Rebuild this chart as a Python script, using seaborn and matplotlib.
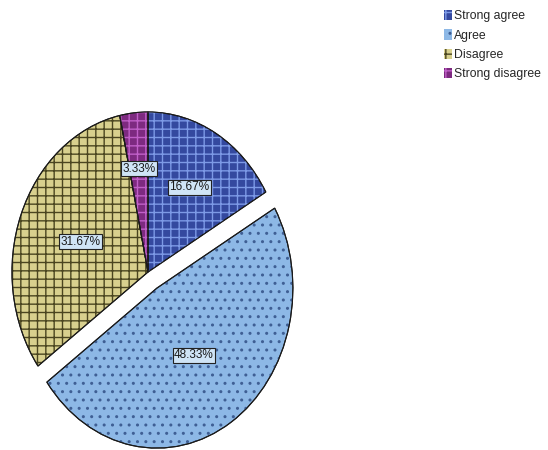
import numpy as np
import matplotlib
matplotlib.use("Agg")
import matplotlib.pyplot as plt
import seaborn as sns
from matplotlib.patches import Wedge, Patch

categories = ["Strong agree", "Agree", "Disagree", "Strong disagree"]
percent = [16.67, 48.33, 31.67, 3.33]
pct_labels = ["16.67%", "48.33%", "31.67%", "3.33%"]

sns.set_theme(style="white")
plt.rcParams['font.family'] = ['Liberation Sans', 'DejaVu Sans']
plt.rcParams['hatch.linewidth'] = 1.0

colors = ["#34499f", "#8db8e6", "#d8d08e", "#7d2a80"]
hatch_colors = ["#7d9ae6", "#3f5f94", "#4a4520", "#c060c8"]
hatches = ["++", "..", "++", "++"]
explode = [0, 0.12, 0, 0]
label_r = [0.61, 0.50, 0.53, 0.65]

fig = plt.figure(figsize=(5.48, 4.5), dpi=100)
ax = fig.add_axes([0, 0, 1, 1])

wedges, _ = ax.pie(percent, explode=explode, colors=colors, startangle=90,
                   counterclock=False,
                   wedgeprops=dict(edgecolor="#1a1a1a", linewidth=0.8))
ax.set_aspect('auto')
# centre at pixel (148, 272), radius 136 px horizontally, 160 px vertically
ax.set_xlim(-148 / 136, (548 - 148) / 136)
ax.set_ylim(-178 / 160, (450 - 178) / 160)
ax.axis('off')

for w, h, hc in zip(wedges, hatches, hatch_colors):
    ov = Wedge(w.center, w.r, w.theta1, w.theta2, fill=False, hatch=h,
               edgecolor=hc, linewidth=0)
    ax.add_patch(ov)
    w.set_zorder(1)
    ov.set_zorder(2)
    outline = Wedge(w.center, w.r, w.theta1, w.theta2, fill=False,
                    edgecolor="#1a1a1a", linewidth=0.8, zorder=3)
    ax.add_patch(outline)

total = sum(percent)
start = 90.0
for w, v, lab, r in zip(wedges, percent, pct_labels, label_r):
    span = 360.0 * v / total
    mid = np.deg2rad(start - span / 2)
    cx, cy = w.center
    ax.text(cx + r * np.cos(mid), cy + r * np.sin(mid), lab,
            ha='center', va='center', fontsize=8.5, color="#1a1a1a", zorder=5,
            bbox=dict(boxstyle='square,pad=0.12', facecolor="#cfe4f6",
                      edgecolor="#222222", linewidth=0.8))
    start -= span

handles = [Patch(facecolor=c, edgecolor=hc, hatch=h, linewidth=0)
           for c, hc, h in zip(colors, hatch_colors, hatches)]
fig.legend(handles, categories, loc='upper left',
           bbox_to_anchor=(444 / 548, 1 - 10 / 450), frameon=False,
           fontsize=8.8, handlelength=0.68, handleheight=0.9,
           handletextpad=0.1, labelspacing=0.58, borderpad=0,
           borderaxespad=0)

fig.savefig("out.png", dpi=100)
